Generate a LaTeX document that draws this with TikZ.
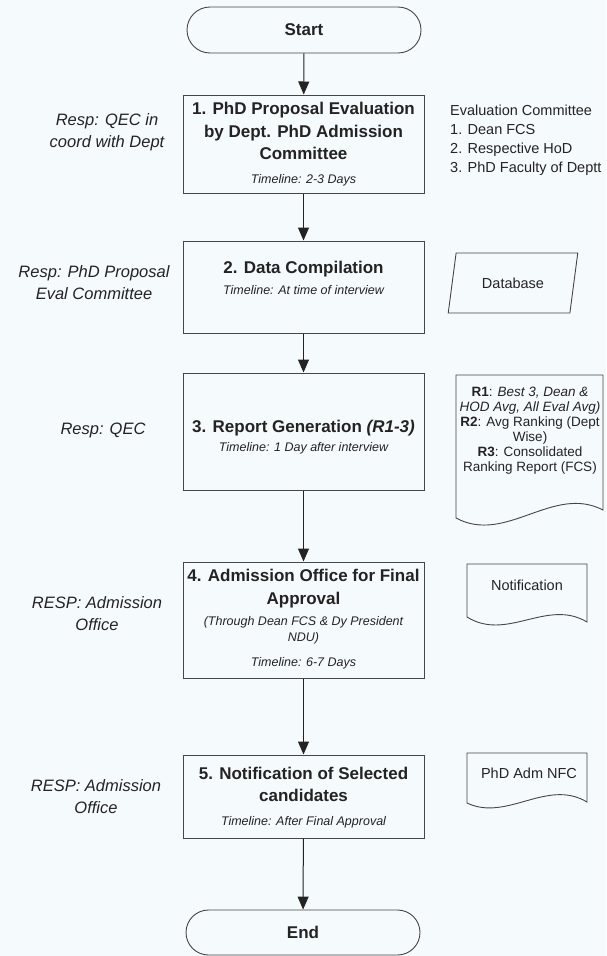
\documentclass[tikz,border=0pt]{standalone}
\usepackage{fontspec}
\setmainfont{Liberation Sans}
\usetikzlibrary{arrows.meta,shapes.geometric,shapes.misc}
\definecolor{bg}{RGB}{245,250,252}
\definecolor{ink}{RGB}{35,35,35}
\definecolor{edge}{RGB}{70,70,70}
\begin{document}
\begin{tikzpicture}[x=1pt,y=-1pt,
  box/.style={draw=edge, line width=1pt, minimum width=241pt, inner sep=0pt},
  term/.style={draw=edge, line width=0.9pt, rounded rectangle, minimum width=234pt, minimum height=46pt, inner sep=0pt, font=\fontsize{17}{20}\selectfont\bfseries, text=ink},
  flow/.style={draw=ink, line width=1pt, -{Triangle[length=13pt,width=11pt]}},
  ttl/.style={font=\fontsize{17}{22.5}\selectfont\bfseries, text=ink, align=center, inner sep=0pt},
  tml/.style={font=\fontsize{12.5}{16}\selectfont\itshape, text=ink, align=center, inner sep=0pt},
  resp/.style={font=\fontsize{16.5}{22}\selectfont\itshape, text=ink, align=center, inner sep=0pt},
  side/.style={font=\fontsize{14.5}{19}\selectfont, text=ink, align=left, inner sep=0pt},
  doctxt/.style={font=\fontsize{13.5}{15}\selectfont, text=ink, align=center, inner sep=0pt},
  docshape/.style={draw=edge, line width=0.9pt},
]
\fill[bg] (0,0) rectangle (606,956);
\useasboundingbox (0,0) rectangle (606,956);

% terminators
\node[term] (start) at (304,30) {Start};
\node[term, minimum height=45pt] (end) at (303,932.5) {End};

% process boxes
\node[box, minimum height=98pt] (b1) at (303.5,144) {};
\node[box, minimum height=92pt] (b2) at (303.5,287) {};
\node[box, minimum height=117pt] (b3) at (303.5,431.5) {};
\node[box, minimum height=116pt] (b4) at (303.5,620) {};
\node[box, minimum height=83pt] (b5) at (303.5,796.5) {};

% box texts
\node[ttl] (t1) at (303.5,131) {1. PhD Proposal Evaluation\\by Dept. PhD Admission\\Committee};
\node[tml] (m1) at (303.5,180) {Timeline: 2-3 Days};
\node[ttl] (t2) at (303.5,269) {2. Data Compilation};
\node[tml] (m2) at (303.5,290) {Timeline: At time of interview};
\node[ttl] (t3) at (303.5,428) {3. Report Generation \textit{(R1-3)}};
\node[tml] (m3) at (303.5,448) {Timeline: 1 Day after interview};
\node[ttl] (t4) at (303.5,588.5) {4. Admission Office for Final\\Approval};
\node[tml] (s4) at (303.5,630) {(Through Dean FCS \& Dy President\\NDU)};
\node[tml] (m4) at (303.5,663) {Timeline: 6-7 Days};
\node[ttl] (t5) at (303.5,784.5) {5. Notification of Selected\\candidates};
\node[tml] (m5) at (303.5,822) {Timeline: After Final Approval};

% responsibility texts
\node[resp] (r1) at (107,132.5) {Resp: QEC in\\coord with Dept};
\node[resp] (r2) at (94,283) {Resp: PhD Proposal\\Eval Committee};
\node[resp] (r3) at (103,430) {Resp: QEC};
\node[resp] (r4) at (97,614) {RESP: Admission\\Office};
\node[resp] (r5) at (96,796.5) {RESP: Admission\\Office};

% side items
\node[side, anchor=west] (ec) at (450,140.5) {Evaluation Committee\\1. Dean FCS\\2. Respective HoD\\3. PhD Faculty of Deptt};

\node[draw=edge, line width=0.9pt, trapezium, trapezium left angle=68, trapezium right angle=112,
  trapezium stretches=true, minimum width=130pt, minimum height=60pt, inner sep=0pt,
  font=\fontsize{14.5}{17}\selectfont, text=ink] (db) at (513,283) {Database};

% document shapes
\draw[docshape] (456,375) -- (603,375) -- (603,510) .. controls (553,484) and (506,545) .. (456,518) -- cycle;
\node[doctxt] (rep) at (530,430.5) {\textbf{R1}: \textit{Best 3, Dean \&}\\\textit{HOD Avg, All Eval Avg)}\\\textbf{R2}: Avg Ranking (Dept\\Wise)\\\textbf{R3}: Consolidated\\Ranking Report (FCS)};

\draw[docshape] (467,564) -- (587,564) -- (587,622) .. controls (547,598) and (507,642) .. (467,617) -- cycle;
\node[doctxt, font=\fontsize{14.5}{17}\selectfont] (nt) at (527,585) {Notification};

\draw[docshape] (467,753) -- (587,753) -- (587,802) .. controls (547,778) and (507,822) .. (467,803) -- cycle;
\node[doctxt, font=\fontsize{14.5}{17}\selectfont] (nfc) at (529,773) {PhD Adm NFC};

% flow connectors
\draw[flow] (start) -- (b1);
\draw[flow] (b1) -- (b2);
\draw[flow] (b2) -- (b3);
\draw[flow] (b3) -- (b4);
\draw[flow] (b4) -- (b5);
\draw[flow] (b5) -- (end);
\end{tikzpicture}
\end{document}
